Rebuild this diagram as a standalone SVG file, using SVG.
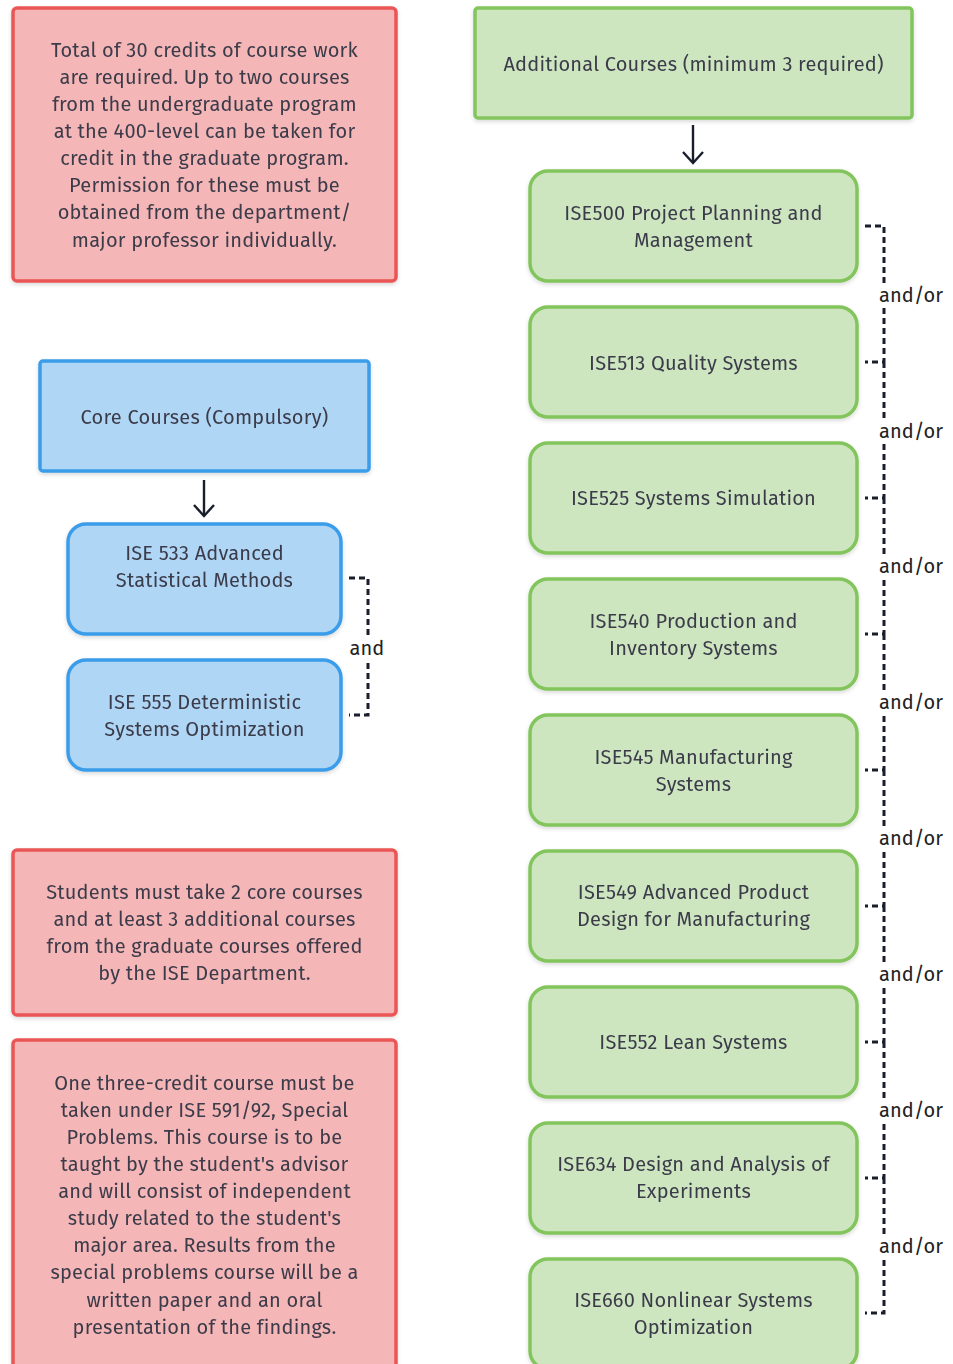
<svg xmlns="http://www.w3.org/2000/svg" width="953" height="1364" viewBox="0 0 953 1364">
<defs>
<style>
.red{fill:#f4b6b6;stroke:#ea5656;stroke-width:3.5}
.blue{fill:#afd6f5;stroke:#3b9de9;stroke-width:3.5}
.green{fill:#cde6c0;stroke:#82c55b;stroke-width:3.5}
text{font-family:"Fira Sans","Open Sans","Noto Sans",sans-serif;font-size:20px;fill:#3b3b4a;text-anchor:middle;dominant-baseline:central;letter-spacing:0.2px}
.lbl{font-family:"Fira Sans","Open Sans","Noto Sans",sans-serif;font-size:20px;fill:#222;letter-spacing:0.1px}
.dash{fill:none;stroke:#1a1e2c;stroke-width:3;stroke-dasharray:6 4}
.arr{fill:none;stroke:#1a1e2c;stroke-width:2.4}
</style>
<filter id="sh" x="-5%" y="-5%" width="110%" height="115%">
<feDropShadow dx="0" dy="2" stdDeviation="2" flood-color="#000" flood-opacity="0.15"/>
</filter>
</defs>
<rect width="953" height="1364" fill="#ffffff"/>

<g id="note-credits" filter="url(#sh)">
<rect class="red" x="13" y="8" width="383" height="273" rx="4"/>
<text x="204.5" y="50">Total of 30 credits of course work</text>
<text x="204.5" y="77">are required. Up to two courses</text>
<text x="204.5" y="104">from the undergraduate program</text>
<text x="204.5" y="131">at the 400-level can be taken for</text>
<text x="204.5" y="158">credit in the graduate program.</text>
<text x="204.5" y="185">Permission for these must be</text>
<text x="204.5" y="212">obtained from the department/</text>
<text x="204.5" y="240">major professor individually.</text>
</g>

<g id="core" filter="url(#sh)">
<rect class="blue" x="40" y="361" width="329" height="110" rx="3"/>
<text x="204.5" y="417">Core Courses (Compulsory)</text>
</g>
<g id="ise533" filter="url(#sh)">
<rect class="blue" x="68" y="524" width="273" height="110" rx="18"/>
<text x="204.5" y="553">ISE 533 Advanced</text>
<text x="204.5" y="580">Statistical Methods</text>
</g>
<g id="ise555" filter="url(#sh)">
<rect class="blue" x="68" y="660" width="273" height="110" rx="18"/>
<text x="204.5" y="702">ISE 555 Deterministic</text>
<text x="204.5" y="729">Systems Optimization</text>
</g>

<g id="note-students" filter="url(#sh)">
<rect class="red" x="13" y="850" width="383" height="165" rx="4"/>
<text x="204.5" y="892">Students must take 2 core courses</text>
<text x="204.5" y="919">and at least 3 additional courses</text>
<text x="204.5" y="946">from the graduate courses offered</text>
<text x="204.5" y="973">by the ISE Department.</text>
</g>

<g id="note-special" filter="url(#sh)">
<rect class="red" x="13" y="1040" width="383" height="340" rx="4"/>
<text x="204.5" y="1083">One three-credit course must be</text>
<text x="204.5" y="1110">taken under ISE 591/92, Special</text>
<text x="204.5" y="1137">Problems. This course is to be</text>
<text x="204.5" y="1164">taught by the student's advisor</text>
<text x="204.5" y="1191">and will consist of independent</text>
<text x="204.5" y="1218">study related to the student's</text>
<text x="204.5" y="1245">major area. Results from the</text>
<text x="204.5" y="1272">special problems course will be a</text>
<text x="204.5" y="1300">written paper and an oral</text>
<text x="204.5" y="1327">presentation of the findings.</text>
</g>

<g id="additional" filter="url(#sh)">
<rect class="green" x="475" y="8" width="437" height="110" rx="3"/>
<text x="693.5" y="64">Additional Courses (minimum 3 required)</text>
</g>
<g id="ise500" filter="url(#sh)">
<rect class="green" x="530" y="171" width="327" height="110" rx="18"/>
<text x="693.5" y="213">ISE500 Project Planning and</text>
<text x="693.5" y="240">Management</text>
</g>
<g id="ise513" filter="url(#sh)">
<rect class="green" x="530" y="307" width="327" height="110" rx="18"/>
<text x="693.5" y="363">ISE513 Quality Systems</text>
</g>
<g id="ise525" filter="url(#sh)">
<rect class="green" x="530" y="443" width="327" height="110" rx="18"/>
<text x="693.5" y="498">ISE525 Systems Simulation</text>
</g>
<g id="ise540" filter="url(#sh)">
<rect class="green" x="530" y="579" width="327" height="110" rx="18"/>
<text x="693.5" y="621">ISE540 Production and</text>
<text x="693.5" y="648">Inventory Systems</text>
</g>
<g id="ise545" filter="url(#sh)">
<rect class="green" x="530" y="715" width="327" height="110" rx="18"/>
<text x="693.5" y="757">ISE545 Manufacturing</text>
<text x="693.5" y="784">Systems</text>
</g>
<g id="ise549" filter="url(#sh)">
<rect class="green" x="530" y="851" width="327" height="110" rx="18"/>
<text x="693.5" y="892">ISE549 Advanced Product</text>
<text x="693.5" y="919">Design for Manufacturing</text>
</g>
<g id="ise552" filter="url(#sh)">
<rect class="green" x="530" y="987" width="327" height="110" rx="18"/>
<text x="693.5" y="1042">ISE552 Lean Systems</text>
</g>
<g id="ise634" filter="url(#sh)">
<rect class="green" x="530" y="1123" width="327" height="110" rx="18"/>
<text x="693.5" y="1164">ISE634 Design and Analysis of</text>
<text x="693.5" y="1191">Experiments</text>
</g>
<g id="ise660" filter="url(#sh)">
<rect class="green" x="530" y="1259" width="327" height="110" rx="18"/>
<text x="693.5" y="1300">ISE660 Nonlinear Systems</text>
<text x="693.5" y="1327">Optimization</text>
</g>

<g id="connectors">
<line class="arr" x1="204" y1="480" x2="204" y2="516"/>
<polyline class="arr" points="194,505 204,516 214,505"/>
<line class="arr" x1="693" y1="125" x2="693" y2="163"/>
<polyline class="arr" points="683,152 693,163 703,152"/>

<path class="dash" d="M349,578 H368 V636"/>
<path class="dash" d="M368,663 V715 H349"/>
<text class="lbl" x="367" y="648">and</text>

<path class="dash" d="M865,226 H884 V284"/>
<path class="dash" d="M884,308 V362 H865 M884,362 V420"/>
<path class="dash" d="M884,444 V498 H865 M884,498 V556"/>
<path class="dash" d="M884,580 V634 H865 M884,634 V692"/>
<path class="dash" d="M884,716 V770 H865 M884,770 V828"/>
<path class="dash" d="M884,852 V906 H865 M884,906 V964"/>
<path class="dash" d="M884,988 V1042 H865 M884,1042 V1100"/>
<path class="dash" d="M884,1124 V1178 H865 M884,1178 V1236"/>
<path class="dash" d="M884,1260 V1313 H865"/>
<text class="lbl" x="911" y="295">and/or</text>
<text class="lbl" x="911" y="431">and/or</text>
<text class="lbl" x="911" y="566">and/or</text>
<text class="lbl" x="911" y="702">and/or</text>
<text class="lbl" x="911" y="838">and/or</text>
<text class="lbl" x="911" y="974">and/or</text>
<text class="lbl" x="911" y="1110">and/or</text>
<text class="lbl" x="911" y="1246">and/or</text>
</g>
</svg>
